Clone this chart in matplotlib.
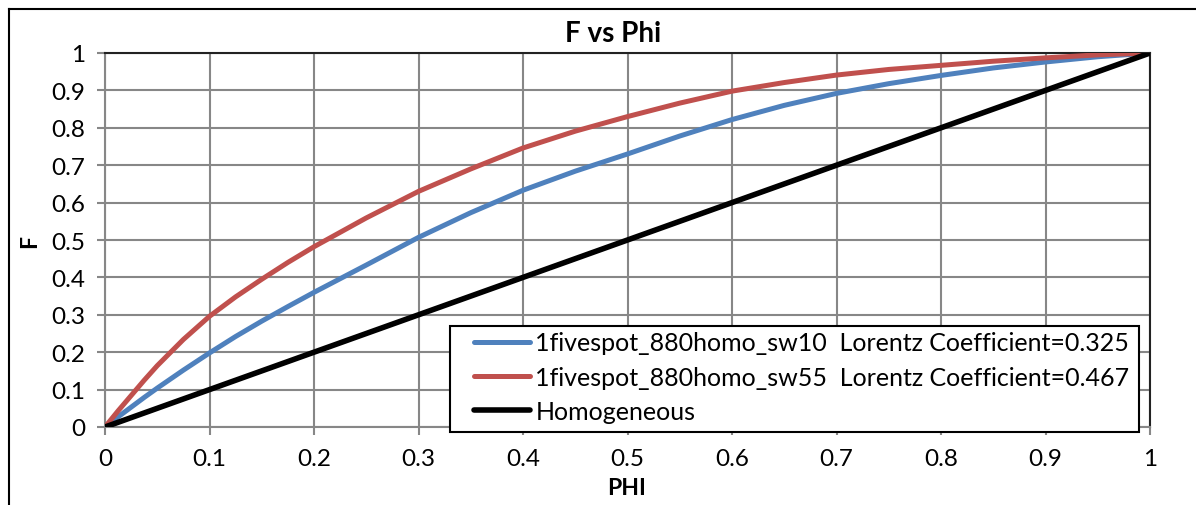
import matplotlib
matplotlib.use("Agg")
import matplotlib.pyplot as plt
from matplotlib.lines import Line2D
from matplotlib.patches import Rectangle

phi = [0.0, 0.0125, 0.025, 0.0375, 0.05, 0.075, 0.1, 0.125, 0.15, 0.175, 0.2, 0.25, 0.3,
       0.35, 0.4, 0.45, 0.5, 0.55, 0.6, 0.65, 0.7, 0.75, 0.8, 0.85, 0.9, 0.95, 1.0]
f_sw10 = [0.0, 0.027, 0.053, 0.079, 0.104, 0.152, 0.198, 0.242, 0.283, 0.322, 0.360, 0.433,
          0.507, 0.573, 0.633, 0.684, 0.730, 0.778, 0.822, 0.860, 0.892, 0.918, 0.940,
          0.960, 0.976, 0.990, 1.0]
f_sw55 = [0.0, 0.043, 0.084, 0.125, 0.164, 0.234, 0.296, 0.348, 0.395, 0.440, 0.482, 0.559,
          0.630, 0.690, 0.746, 0.791, 0.830, 0.866, 0.898, 0.921, 0.941, 0.956, 0.967,
          0.978, 0.987, 0.995, 1.0]
homo_x = [0.0, 1.0]
homo_y = [0.0, 1.0]

labels = ["1fivespot_880homo_sw10  Lorentz Coefficient=0.325",
          "1fivespot_880homo_sw55  Lorentz Coefficient=0.467",
          "Homogeneous"]
ticks = [0, 0.1, 0.2, 0.3, 0.4, 0.5, 0.6, 0.7, 0.8, 0.9, 1]
tick_labels = ["0", "0.1", "0.2", "0.3", "0.4", "0.5", "0.6", "0.7", "0.8", "0.9", "1"]

plt.rcParams['font.family'] = ['Lato', 'DejaVu Sans']

W, H = 1196, 506
fig = plt.figure(figsize=(W / 100, H / 100), dpi=100)
fig.patch.set_facecolor('white')

ax = fig.add_axes([105 / W, 1 - 428 / H, (1150 - 105) / W, (428 - 54) / H])

grid_c = '#878787'
kw = dict(solid_capstyle='round', solid_joinstyle='round')
ax.plot(phi, f_sw10, color='#4F81BD', lw=3.6, label=labels[0], zorder=3, **kw)
ax.plot(phi, f_sw55, color='#C0504D', lw=3.6, label=labels[1], zorder=3, **kw)
ax.plot(homo_x, homo_y, color='black', lw=4.0, label=labels[2], zorder=4, **kw)

ax.set_xlim(0, 1)
ax.set_ylim(0, 1)
ax.set_xticks(ticks)
ax.set_xticklabels(tick_labels)
ax.set_yticks(ticks)
ax.set_yticklabels(tick_labels)
ax.grid(True, color=grid_c, lw=1.5)
ax.set_axisbelow(True)
ax.tick_params(axis='both', direction='out', length=6, width=1.5, color=grid_c,
               labelsize=17.5, labelcolor='black')
ax.tick_params(axis='x', pad=9)
ax.tick_params(axis='y', pad=8)
for s in ['left', 'bottom']:
    ax.spines[s].set_color(grid_c)
    ax.spines[s].set_linewidth(1.5)
for s in ['top', 'right']:
    ax.spines[s].set_color('#222222')
    ax.spines[s].set_linewidth(1.5)

fig.text(613 / W, 1 - 34 / H, "F vs Phi", fontsize=20, fontweight='bold',
         ha='center', va='center')
fig.text(627 / W, 1 - 489 / H, "PHI", fontsize=16.5, fontweight='bold',
         ha='center', va='center')
fig.text(30 / W, 1 - 241 / H, "F", fontsize=16.5, fontweight='bold',
         ha='center', va='center', rotation=90)

leg = ax.legend(loc='center left', bbox_to_anchor=(474 / W, 1 - 378 / H),
                bbox_transform=fig.transFigure, borderaxespad=0, borderpad=0,
                fontsize=18, frameon=False, handlelength=2.25, handletextpad=0.2,
                labelspacing=0.45)
leg.set_zorder(7)

frame = Rectangle((450 / W, 1 - 433 / H), (1139 - 450) / W, (433 - 327) / H,
                  transform=fig.transFigure, facecolor='white', edgecolor='black',
                  lw=1.5, zorder=6, clip_on=False)
ax.add_artist(frame)

x0 = 9 / W
y0 = 1 - 10 / H
fig.add_artist(Line2D([x0, 1.2], [y0, y0], transform=fig.transFigure, color='black', lw=1.5))
fig.add_artist(Line2D([x0, x0], [y0, -0.2], transform=fig.transFigure, color='black', lw=1.5))

fig.savefig("out.png", dpi=100)
